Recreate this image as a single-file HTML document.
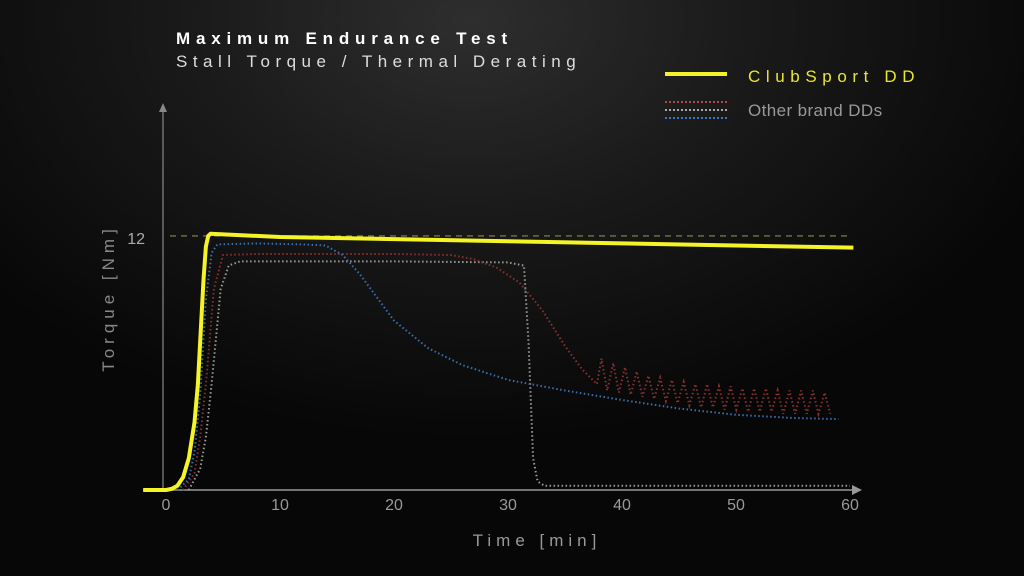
<!DOCTYPE html>
<html><head><meta charset="utf-8"><style>
html,body{margin:0;padding:0;width:1024px;height:576px;overflow:hidden;background:#000}
#bg{position:absolute;left:0;top:0;width:1024px;height:576px;background:radial-gradient(ellipse 620px 420px at 470px 20px,#2e2e2e 0%,#1a1a1a 45%,#070707 100%)}
svg{position:absolute;left:0;top:0}
text{font-family:"Liberation Sans",sans-serif}
</style></head><body>
<div id="bg"></div>
<svg id="chart" width="1024" height="576">
<text x="176" y="44" fill="#fff" font-size="17" font-weight="bold" letter-spacing="5.8">Maximum Endurance Test</text>
<text x="176" y="67" fill="#ddd" font-size="17" letter-spacing="5.5">Stall Torque / Thermal Derating</text>
<g>
<line x1="665" y1="74" x2="727" y2="74" stroke="#f2f22a" stroke-width="4"/>
<text x="748" y="82" fill="#e8e830" font-size="17" letter-spacing="5.6">ClubSport DD</text>
<line x1="665" y1="102" x2="727" y2="102" stroke="#b04848" stroke-width="2" stroke-dasharray="2 2"/>
<line x1="665" y1="110" x2="727" y2="110" stroke="#aaa" stroke-width="2" stroke-dasharray="2 2"/>
<line x1="665" y1="118" x2="727" y2="118" stroke="#3a78c0" stroke-width="2" stroke-dasharray="2 2"/>
<text x="748" y="116" fill="#999" font-size="17" letter-spacing="0.4">Other brand DDs</text>
</g>
<g id="axes"></g>
<g id="series"></g>
</svg>
<script>
const xTicks=[0,10,20,30,40,50,60];
const yTicks=[12];
const yellowT=[-2,0,0.5,1,1.5,2,2.5,2.8,3.1,3.3,3.5,3.7,3.9,10,20,30,40,50,60.3];
const yellowV=[0,0,0.05,0.2,0.6,1.5,3.2,5,8,10,11.5,12,12.1,11.95,11.85,11.75,11.65,11.55,11.45];
const blueT=[1,2,2.5,3,3.5,4,4.5,8,12,14,15.5,17,20,23,26,30,35,40,45,50,55,59];
const blueV=[0,0.5,1.8,4.5,9,11.2,11.6,11.65,11.6,11.55,11.1,10.2,8.0,6.7,5.9,5.2,4.7,4.25,3.85,3.55,3.4,3.35];
const redT=[1.5,2.5,3,3.5,4.2,5,8,15,20,25,27,29,31,33,35,36.5,37.8];
const redV=[0,0.8,2.5,5,9.5,11.1,11.15,11.15,11.15,11.1,10.9,10.5,9.8,8.5,6.8,5.7,5.0];
const redOscPeaks=[6.2,6.0,5.8,5.6,5.4,5.3,5.2,5.1,5.0,5.0,4.9,4.9,4.8,4.8,4.8,4.7,4.7,4.7,4.7,4.6];
const redOscTroughs=[4.7,4.6,4.5,4.4,4.3,4.2,4.1,4.0,3.9,3.9,3.8,3.8,3.7,3.7,3.7,3.6,3.6,3.6,3.6,3.6];
const greyT=[2,3,3.5,4,4.8,5.5,6.5,10,20,30,31.4,31.8,32.2,32.6,33.2,40,50,60];
const greyV=[0,1,2.5,5,9.5,10.6,10.8,10.8,10.8,10.75,10.6,7,1.5,0.4,0.2,0.2,0.2,0.2];

const X=t=>166+t*11.4;
const Y=v=>490-v*21.17;
const ns='http://www.w3.org/2000/svg';
function mk(tag,attrs,parent){const e=document.createElementNS(ns,tag);for(const k in attrs)e.setAttribute(k,attrs[k]);parent.appendChild(e);return e;}
const ax=document.getElementById('axes'), se=document.getElementById('series');

let a=mk('line',{x1:163,y1:490,x2:163,y2:108,stroke:'#888','stroke-width':1.2},ax);


a=mk('path',{d:'M159,112 L163,103 L167,112 Z',fill:'#888'},ax);


a=mk('line',{x1:143,y1:490,x2:854,y2:490,stroke:'#999','stroke-width':1.5},ax);


a=mk('path',{d:'M852,485 L862,490 L852,495 Z',fill:'#999'},ax);


xTicks.forEach(t=>{const e=mk('text',{x:X(t),y:510,fill:'#999','font-size':16,'text-anchor':'middle'},ax);e.textContent=t;

});
yTicks.forEach(v=>{const e=mk('text',{x:145,y:Y(v)+8,fill:'#aaa','font-size':16,'text-anchor':'end'},ax);e.textContent=v;


const d=mk('line',{x1:170,y1:Y(v),x2:850,y2:Y(v),stroke:'#8a8a40','stroke-width':1.2,'stroke-dasharray':'6 5'},ax);

});
let t=mk('text',{x:537,y:546,fill:'#999','font-size':17,'text-anchor':'middle','letter-spacing':5},ax);t.textContent='Time [min]';


t=mk('text',{x:0,y:0,fill:'#888','font-size':17,'text-anchor':'middle','letter-spacing':5,transform:'translate(114,298) rotate(-90)'},ax);t.textContent='Torque [Nm]';



function pathFrom(T,V){return T.map((tt,i)=>(i?'L':'M')+X(tt).toFixed(1)+','+Y(V[i]).toFixed(1)).join(' ');}
const rT=redT.slice(), rV=redV.slice();
for(let i=0;i<redOscPeaks.length;i++){const base=38+i*1.03;rT.push(base+0.2,base+0.7);rV.push(redOscPeaks[i],redOscTroughs[i]);}
let p=mk('path',{d:pathFrom(greyT,greyV),fill:'none',stroke:'#9a9a9a','stroke-width':2,'stroke-dasharray':'1.5 2.5'},se);


p=mk('path',{d:pathFrom(rT,rV),fill:'none',stroke:'#8a3030','stroke-width':2,'stroke-dasharray':'1.5 2.5'},se);


p=mk('path',{d:pathFrom(blueT,blueV),fill:'none',stroke:'#3a6fb0','stroke-width':2,'stroke-dasharray':'1.5 2.5'},se);


p=mk('path',{d:pathFrom(yellowT,yellowV),fill:'none',stroke:'#f4f428','stroke-width':4,'stroke-linejoin':'round'},se);


</script>
</body></html>
